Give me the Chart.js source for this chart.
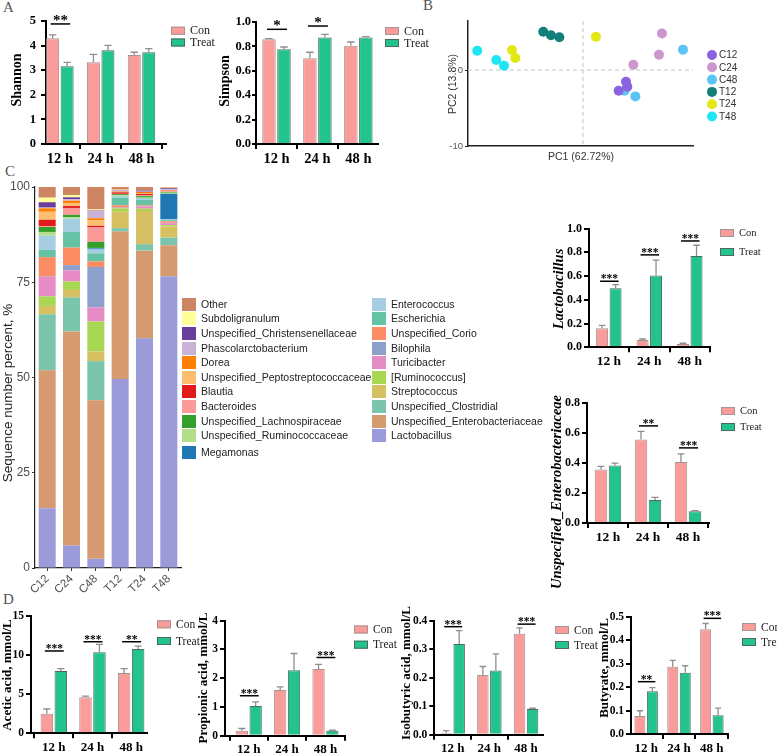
<!DOCTYPE html>
<html>
<head>
<meta charset="utf-8">
<script src="https://cdn.jsdelivr.net/npm/chart.js@4.4.0/dist/chart.umd.min.js"></script>
<style>
html, body { margin: 0; padding: 0; background: #fff; }
#wrap { position: relative; width: 777px; height: 754px; overflow: hidden; }
#wrap canvas { position: absolute; left: 0; top: 0; }
.panel { position: absolute; font-family: "Liberation Serif"; font-size: 15px; line-height: 15px; color: #555; }
.lg-box { position: absolute; width: 14px; height: 13px; }
.lg-txt { position: absolute; font-family: "Liberation Sans"; font-size: 10.5px; line-height: 13px; color: #222; white-space: nowrap; }
</style>
</head>
<body>
<div id="wrap">
  <div class="panel" style="left:3px;top:0px">A</div>
  <div class="panel" style="left:423px;top:-2px">B</div>
  <div class="panel" style="left:5px;top:164px">C</div>
  <div class="panel" style="left:3px;top:592px">D</div>
</div>
<script>
// ---- data ----
const times = ['12 h', '24 h', '48 h'];
const groups = ['Con', 'Treat'];
const groupFill = ['#f99c9a', '#23c38e'];
const groupLine = ['#a49494', '#4e6a5e'];

const shannonCon = [4.30, 3.32, 3.62];
const shannonConSd = [0.14, 0.32, 0.11];
const shannonTreat = [3.16, 3.81, 3.73];
const shannonTreatSd = [0.16, 0.20, 0.15];
const shannonSig = ['**', '', ''];
const shannonSigAt = [4.88, null, null];

const simpsonCon = [0.858, 0.702, 0.806];
const simpsonConSd = [0.005, 0.05, 0.03];
const simpsonTreat = [0.776, 0.872, 0.872];
const simpsonTreatSd = [0.019, 0.027, 0.008];
const simpsonSig = ['*', '*', ''];
const simpsonSigAt = [0.94, 0.967, null];

const lactoCon = [0.16, 0.062, 0.028];
const lactoConSd = [0.025, 0.008, 0.006];
const lactoTreat = [0.497, 0.604, 0.769];
const lactoTreatSd = [0.031, 0.13, 0.09];
const lactoSig = ['***', '***', '***'];
const lactoSigAt = [0.556, 0.778, 0.895];

const enteroCon = [0.358, 0.558, 0.407];
const enteroConSd = [0.02, 0.055, 0.055];
const enteroTreat = [0.385, 0.153, 0.078];
const enteroTreatSd = [0.015, 0.018, 0.005];
const enteroSig = ['', '**', '***'];
const enteroSigAt = [null, 0.649, 0.502];

const aceticCon = [2.5, 4.6, 7.7];
const aceticConSd = [0.6, 0.13, 0.55];
const aceticTreat = [7.95, 10.33, 10.75];
const aceticTreatSd = [0.3, 1.0, 0.38];
const aceticSig = ['***', '***', '**'];
const aceticSigAt = [10.5, 11.68, 11.68];

const propCon = [0.17, 1.59, 2.32];
const propConSd = [0.08, 0.11, 0.16];
const propTreat = [1.03, 2.28, 0.17];
const propTreatSd = [0.15, 0.58, 0.02];
const propSig = ['***', '', '***'];
const propSigAt = [1.39, null, 2.72];

const isoCon = [0.007, 0.21, 0.355];
const isoConSd = [0.007, 0.03, 0.021];
const isoTreat = [0.319, 0.226, 0.09];
const isoTreatSd = [0.047, 0.058, 0.003];
const isoSig = ['***', '', '***'];
const isoSigAt = [0.380, null, 0.389];

const butyCon = [0.077, 0.287, 0.447];
const butyConSd = [0.022, 0.027, 0.024];
const butyTreat = [0.182, 0.261, 0.08];
const butyTreatSd = [0.016, 0.03, 0.03];
const butySig = ['**', '', '***'];
const butySigAt = [0.223, null, 0.493];

// PCA
const pcaGroups = ['C12', 'C24', 'C48', 'T12', 'T24', 'T48'];
const pcaColors = ['#8b63e0', '#cc98cc', '#5cc3f5', '#137f7a', '#e1e814', '#1fe6f2'];
const pcaPc1 = [
  [3.91, 4.03, 3.24],
  [7.18, 6.91, 4.58],
  [9.09, 3.76, 4.76],
  [-3.61, -2.91, -2.15],
  [-6.45, -6.15, 1.18],
  [-9.61, -7.88, -7.18]
];
const pcaPc2 = [
  [-1.54, -2.19, -2.72],
  [4.82, 2.02, 0.70],
  [2.68, -2.72, -3.47],
  [5.04, 4.57, 4.30],
  [2.63, 1.58, 4.38],
  [2.54, 1.32, 0.57]
];

// community composition, bottom of the stack first
const samples = ['C12', 'C24', 'C48', 'T12', 'T24', 'T48'];
const genera = ['Lactobacillus', 'Unspecified_Enterobacteriaceae', 'Unspecified_Clostridial', 'Streptococcus',
  '[Ruminococcus]', 'Turicibacter', 'Bilophila', 'Unspecified_Corio', 'Escherichia', 'Enterococcus',
  'Megamonas', 'Unspecified_Ruminococcaceae', 'Unspecified_Lachnospiraceae', 'Bacteroides', 'Blautia',
  'Unspecified_Peptostreptococcaceae', 'Dorea', 'Phascolarctobacterium', 'Unspecified_Christensenellaceae',
  'Subdoligranulum', 'Other'];
const genusColors = ['#9b9bd9', '#d69a70', '#7ac5ab', '#d6c062', '#a8d853', '#e68bc6', '#8d9fcb', '#fc8c63',
  '#66c2a5', '#a6cee3', '#1f78b4', '#b2df8a', '#33a02c', '#fb9a99', '#e31a1c', '#fdbf6f', '#ff7f00',
  '#cab2d6', '#6a3d9a', '#ffff99', '#cd8563'];
const c12 = [15.7, 36.2, 14.7, 2.2, 2.5, 5.1, 0.1, 5.1, 1.9, 3.7, 0, 1.0, 1.3, 0.2, 1.7, 2.1, 0.9, 0.2, 1.4, 1.2, 3.0];
const c24 = [5.9, 56.2, 8.9, 2.0, 2.2, 2.9, 1.4, 4.6, 4.1, 3.5, 0, 0.4, 0.6, 1.8, 0.5, 0.7, 0.7, 0.4, 0.5, 0.6, 2.1];
const c48 = [2.4, 41.6, 10.3, 2.5, 7.9, 3.7, 10.6, 1.5, 2.1, 1.0, 0.3, 0.1, 1.6, 3.9, 0.3, 1.5, 0.5, 1.8, 0.2, 0.3, 6.0];
const t12 = [49.6, 38.7, 0.9, 4.3, 0.9, 0.1, 0.1, 0.6, 2.0, 0.4, 0, 0.2, 0.3, 0.1, 0.4, 0.1, 0.1, 0.3, 0.1, 0.1, 0.9];
const t24 = [60.3, 23.0, 1.7, 8.7, 0.6, 0.5, 0.1, 0.3, 1.5, 0.4, 0, 0.1, 0.4, 0.2, 0.4, 0.2, 0.3, 0.1, 0.3, 0.1, 1.0];
const t48 = [76.6, 8.1, 2.0, 2.9, 0.4, 0.5, 0.1, 0.4, 0.3, 0.3, 6.6, 0.3, 0.2, 0.2, 0.1, 0.1, 0.1, 0.3, 0.2, 0.1, 0.6];
const sampleValues = [c12, c24, c48, t12, t24, t48];

// ---- drawing ----
const W = 777, H = 754;
const wrap = document.getElementById('wrap');
const serif = 'Liberation Serif', sans = 'Liberation Sans';

function addCanvas(id) {
  const c = document.createElement('canvas');
  c.id = id; c.width = W; c.height = H;
  wrap.appendChild(c);
  return c.getContext('2d');
}

// the axis boxes must be wide enough, chart.js clips tick labels to them
function axisSizes(box) {
  return { yw: Math.min(45, box.x0 - 1), xh: Math.min(32, H - box.y1) };
}

function padFor(box, yw, xh) {
  return { left: box.x0 - yw, top: box.y0, right: W - box.x1, bottom: H - box.y1 - xh };
}

function vText(ctx, t) {
  ctx.save();
  ctx.translate(t.x, t.y);
  ctx.rotate(-Math.PI / 2);
  ctx.font = t.font;
  ctx.fillStyle = t.color || '#000';
  ctx.textAlign = 'center';
  ctx.textBaseline = 'middle';
  ctx.fillText(t.text, 0, 0);
  ctx.restore();
}

function barDecor(s) {
  return {
    id: 'barDecor',
    afterDatasetsDraw(chart) {
      const ctx = chart.ctx, ys = chart.scales.y;
      ctx.save();
      chart.data.datasets.forEach((ds, d) => {
        chart.getDatasetMeta(d).data.forEach((bar, i) => {
          const top = ys.getPixelForValue(ds.data[i].y + ds.errors[i]);
          const cap = bar.width * 0.28;
          ctx.strokeStyle = '#8e8e8e';
          ctx.lineWidth = 1.3;
          ctx.beginPath();
          ctx.moveTo(bar.x, bar.y);
          ctx.lineTo(bar.x, top);
          ctx.moveTo(bar.x - cap, top);
          ctx.lineTo(bar.x + cap, top);
          ctx.stroke();
        });
      });
      const m0 = chart.getDatasetMeta(0).data, m1 = chart.getDatasetMeta(1).data;
      s.sig.forEach((mark, i) => {
        if (!mark) return;
        const y = ys.getPixelForValue(s.sigAt[i]);
        ctx.strokeStyle = '#000';
        ctx.lineWidth = 1.5;
        ctx.beginPath();
        ctx.moveTo(m0[i].x - 2, y);
        ctx.lineTo(m1[i].x + 3, y);
        ctx.stroke();
        ctx.fillStyle = '#000';
        ctx.font = 'bold ' + s.starSize + 'px "' + serif + '"';
        ctx.textAlign = 'center';
        ctx.textBaseline = 'alphabetic';
        ctx.fillText(mark, (m0[i].x + m1[i].x) / 2 + 0.5, y + 1);
      });
      ctx.restore();
    },
    afterDraw(chart) {
      const ctx = chart.ctx;
      vText(ctx, { text: s.title, x: s.titleX, y: s.titleY,
        font: (s.italic ? 'italic ' : '') + 'bold ' + s.titleSize + 'px "' + serif + '"' });
      ctx.save();
      groups.forEach((g, k) => {
        const y = s.legY + k * s.legDy;
        ctx.fillStyle = groupFill[k];
        ctx.fillRect(s.legX, y - 4, 14, 8);
        ctx.strokeStyle = groupLine[k];
        ctx.lineWidth = 1;
        ctx.strokeRect(s.legX + 0.5, y - 3.5, 13, 7);
        ctx.fillStyle = '#222';
        ctx.font = s.legSize + 'px "' + serif + '"';
        ctx.textAlign = 'left';
        ctx.textBaseline = 'middle';
        ctx.fillText(g, s.legX + 19, y + 0.5);
      });
      ctx.restore();
    }
  };
}

function groupedBars(id, s) {
  const ctx = addCanvas(id);
  const spacing = (s.box.x1 - s.box.x0) / (s.xmax - s.xmin);
  const gap = 1.5;
  const ax = axisSizes(s.box);
  const series = [[s.con, s.conSd], [s.treat, s.treatSd]];
  const yTicks = [];
  for (let v = 0; v <= s.ymax + 1e-9; v += s.step) yTicks.push(+v.toFixed(6));
  new Chart(ctx, {
    type: 'bar',
    data: {
      datasets: series.map((se, k) => ({
        label: groups[k],
        data: se[0].map((v, i) => ({ x: i, y: v })),
        errors: se[1],
        backgroundColor: groupFill[k],
        borderColor: groupLine[k],
        borderWidth: 1,
        categoryPercentage: 2 * (s.barW + gap) / spacing,
        barPercentage: s.barW / (s.barW + gap)
      }))
    },
    options: {
      responsive: false,
      animation: false,
      layout: { padding: padFor(s.box, ax.yw, ax.xh) },
      plugins: { legend: { display: false }, tooltip: { enabled: false } },
      scales: {
        x: {
          type: 'linear', min: s.xmin, max: s.xmax, offset: false,
          afterBuildTicks: sc => { sc.ticks = times.map((t, i) => ({ value: i })); },
          afterFit: sc => { sc.height = ax.xh; },
          ticks: { callback: v => times[v], font: { family: serif, size: s.labSize, weight: 'bold' },
                   color: '#000', padding: 1.5, maxRotation: 0, autoSkip: false },
          grid: { display: true, drawOnChartArea: false, drawTicks: true, tickLength: 5, color: '#000', lineWidth: 2 },
          border: { display: true, color: '#000', width: 2 }
        },
        y: {
          min: 0, max: s.ymax,
          afterBuildTicks: sc => { sc.ticks = yTicks.map(v => ({ value: v })); },
          afterFit: sc => { sc.width = ax.yw; },
          ticks: { callback: v => v.toFixed(s.dec), font: { family: serif, size: s.tickSize, weight: 'bold' },
                   color: '#000', padding: s.tickPad },
          grid: { display: true, drawOnChartArea: false, drawTicks: true, tickLength: s.tickLen || 5, color: '#000', lineWidth: 2 },
          border: { display: true, color: '#000', width: 2 }
        }
      }
    },
    plugins: [barDecor(s)]
  });
}

const styleA = { tickSize: 12.5, labSize: 14.5, starSize: 15, titleSize: 14, legSize: 12, tickPad: 5 };
const styleC = { tickSize: 12, labSize: 13.5, starSize: 11.5, titleSize: 14.5, legSize: 10.5, tickPad: 2, italic: true };
const styleD = { tickSize: 11.5, labSize: 13, starSize: 11.5, titleSize: 13, legSize: 11.5, tickPad: 2 };

groupedBars('shannon', Object.assign({}, styleA, {
  box: { x0: 46, x1: 166, y0: 21, y1: 144 }, xmin: -0.34, xmax: 2.6, ymax: 5, step: 1, dec: 0, barW: 13,
  con: shannonCon, conSd: shannonConSd, treat: shannonTreat, treatSd: shannonTreatSd,
  sig: shannonSig, sigAt: shannonSigAt,
  title: 'Shannon', titleX: 17, titleY: 80, legX: 171, legY: 30.7, legDy: 11.8
}));

groupedBars('simpson', Object.assign({}, styleA, {
  box: { x0: 256, x1: 378, y0: 22, y1: 144 }, xmin: -0.5, xmax: 2.48, ymax: 1, step: 0.2, dec: 1, barW: 13.5,
  con: simpsonCon, conSd: simpsonConSd, treat: simpsonTreat, treatSd: simpsonTreatSd,
  sig: simpsonSig, sigAt: simpsonSigAt, tickPad: 1, tickLen: 4,
  title: 'Simpson', titleX: 225, titleY: 81, legX: 385, legY: 31, legDy: 12
}));

groupedBars('lacto', Object.assign({}, styleC, {
  box: { x0: 589, x1: 710, y0: 228.5, y1: 347.3 }, xmin: -0.49, xmax: 2.5, ymax: 1, step: 0.2, dec: 1, barW: 12,
  con: lactoCon, conSd: lactoConSd, treat: lactoTreat, treatSd: lactoTreatSd,
  sig: lactoSig, sigAt: lactoSigAt,
  title: 'Lactobacillus', titleX: 559, titleY: 289, legX: 720, legY: 233, legDy: 19
}));

groupedBars('entero', Object.assign({}, styleC, {
  box: { x0: 587, x1: 709, y0: 403.3, y1: 523 }, xmin: -0.525, xmax: 2.525, ymax: 0.8, step: 0.2, dec: 1, barW: 12.5,
  con: enteroCon, conSd: enteroConSd, treat: enteroTreat, treatSd: enteroTreatSd,
  sig: enteroSig, sigAt: enteroSigAt,
  title: 'Unspecified_Enterobacteriaceae', titleX: 557, titleY: 492, legX: 721, legY: 411, legDy: 16
}));

groupedBars('acetic', Object.assign({}, styleD, {
  box: { x0: 31, x1: 147, y0: 615.7, y1: 733.3 }, xmin: -0.59, xmax: 2.41, ymax: 15, step: 5, dec: 0, barW: 12.5,
  con: aceticCon, conSd: aceticConSd, treat: aceticTreat, treatSd: aceticTreatSd,
  sig: aceticSig, sigAt: aceticSigAt,
  title: 'Acetic acid, mmol/L', titleX: 8, titleY: 675, legX: 157, legY: 624.3, legDy: 16.7
}));

groupedBars('propionic', Object.assign({}, styleD, {
  box: { x0: 225, x1: 345, y0: 620.7, y1: 735.7 }, xmin: -0.62, xmax: 2.51, ymax: 4, step: 1, dec: 0, barW: 12.3,
  con: propCon, conSd: propConSd, treat: propTreat, treatSd: propTreatSd,
  sig: propSig, sigAt: propSigAt,
  title: 'Propionic acid, mmol/L', titleX: 204, titleY: 678, legX: 354, legY: 629.5, legDy: 15.2
}));

groupedBars('isobutyric', Object.assign({}, styleD, {
  box: { x0: 434.3, x1: 543.3, y0: 621, y1: 734.7 }, xmin: -0.5, xmax: 2.47, ymax: 0.4, step: 0.1, dec: 1, barW: 11.5,
  con: isoCon, conSd: isoConSd, treat: isoTreat, treatSd: isoTreatSd,
  sig: isoSig, sigAt: isoSigAt,
  title: 'Isobutyric acid, mmol/L', titleX: 407, titleY: 673, legX: 555, legY: 630, legDy: 15
}));

groupedBars('butyrate', Object.assign({}, styleD, {
  box: { x0: 631, x1: 728.3, y0: 616.7, y1: 734 }, xmin: -0.46, xmax: 2.5, ymax: 0.5, step: 0.1, dec: 1, barW: 11,
  con: butyCon, conSd: butyConSd, treat: butyTreat, treatSd: butyTreatSd,
  sig: butySig, sigAt: butySigAt,
  title: 'Butyrate, mmol/L', titleX: 605, titleY: 668, legX: 742, legY: 627, legDy: 15
}));

// ---- PCA ----
(function () {
  const ctx = addCanvas('pca');
  const box = { x0: 468, x1: 693, y0: 21, y1: 146 };
  const ax = axisSizes(box);
  new Chart(ctx, {
    type: 'scatter',
    data: {
      datasets: pcaGroups.map((g, k) => ({
        label: g,
        data: pcaPc1[k].map((v, i) => ({ x: v, y: pcaPc2[k][i] })),
        backgroundColor: pcaColors[k],
        borderWidth: 0,
        pointRadius: 5
      }))
    },
    options: {
      responsive: false,
      animation: false,
      layout: { padding: padFor(box, ax.yw, ax.xh) },
      plugins: { legend: { display: false }, tooltip: { enabled: false } },
      scales: {
        x: {
          type: 'linear', min: -10.45, max: 10,
          afterFit: sc => { sc.height = ax.xh; },
          ticks: { display: false },
          grid: { display: false },
          border: { display: true, color: '#222', width: 1.5 }
        },
        y: {
          min: -10, max: 6.45,
          afterBuildTicks: sc => { sc.ticks = [{ value: -10 }, { value: 0 }]; },
          afterFit: sc => { sc.width = ax.yw; },
          ticks: { font: { family: sans, size: 9.5 }, color: '#555', padding: 2 },
          grid: { display: true, drawOnChartArea: false, drawTicks: true, tickLength: 3, color: '#222', lineWidth: 1 },
          border: { display: true, color: '#222', width: 1.5 }
        }
      }
    },
    plugins: [{
      id: 'pcaDecor',
      beforeDatasetsDraw(chart) {
        const c = chart.ctx, a = chart.chartArea;
        const x0 = chart.scales.x.getPixelForValue(0), y0 = chart.scales.y.getPixelForValue(0);
        c.save();
        c.strokeStyle = '#c4c4c4';
        c.lineWidth = 1;
        c.setLineDash([4, 3]);
        c.beginPath();
        c.moveTo(x0, a.top); c.lineTo(x0, a.bottom);
        c.moveTo(a.left, y0); c.lineTo(a.right, y0);
        c.stroke();
        c.restore();
      },
      afterDraw(chart) {
        const c = chart.ctx;
        vText(c, { text: 'PC2 (13.8%)', x: 453, y: 84, font: '10.5px "' + sans + '"', color: '#333' });
        c.save();
        c.font = '10.5px "' + sans + '"';
        c.fillStyle = '#333';
        c.textAlign = 'center';
        c.textBaseline = 'middle';
        c.fillText('PC1 (62.72%)', 581, 157);
        c.textAlign = 'left';
        c.font = '10px "' + sans + '"';
        pcaGroups.forEach((g, k) => {
          const y = 55 + k * 12.3;
          c.fillStyle = pcaColors[k];
          c.beginPath();
          c.arc(712, y, 5, 0, Math.PI * 2);
          c.fill();
          c.fillStyle = '#333';
          c.fillText(g, 719, y + 0.5);
        });
        c.restore();
      }
    }]
  });
})();

// ---- stacked composition ----
(function () {
  const ctx = addCanvas('stack');
  const box = { x0: 35, x1: 181, y0: 187, y1: 568 };
  const ax = axisSizes(box);
  new Chart(ctx, {
    type: 'bar',
    data: {
      labels: samples,
      datasets: genera.map((g, k) => ({
        label: g,
        data: sampleValues.map(arr => arr[k]),
        backgroundColor: genusColors[k],
        borderWidth: 0,
        barPercentage: 0.7,
        categoryPercentage: 1
      }))
    },
    options: {
      responsive: false,
      animation: false,
      layout: { padding: padFor(box, ax.yw, ax.xh) },
      plugins: { legend: { display: false }, tooltip: { enabled: false } },
      scales: {
        x: {
          stacked: true,
          afterFit: sc => { sc.height = ax.xh; },
          ticks: { font: { family: sans, size: 11.5 }, color: '#4d4d4d', minRotation: 45, maxRotation: 45, padding: 1 },
          grid: { display: true, offset: false, drawOnChartArea: false, drawTicks: true, tickLength: 3, color: '#333' },
          border: { display: true, color: '#222', width: 1.2 }
        },
        y: {
          stacked: true, min: 0, max: 100,
          afterFit: sc => { sc.width = ax.yw; },
          ticks: { stepSize: 25, font: { family: sans, size: 12 }, color: '#4d4d4d', padding: 2 },
          grid: { display: true, drawOnChartArea: false, drawTicks: true, tickLength: 3, color: '#333' },
          border: { display: true, color: '#222', width: 1.2 }
        }
      }
    },
    plugins: [{
      id: 'stackTitle',
      afterDraw(chart) {
        vText(chart.ctx, { text: 'Sequence number percent, %', x: 8, y: 393, font: '13.5px "' + sans + '"', color: '#222' });
      }
    }]
  });

  // legend in two columns, top of the stack first
  const order = genera.map((g, k) => k).reverse();
  order.forEach((k, n) => {
    const col = n < 11 ? 0 : 1;
    const row = col === 0 ? n : n - 11;
    const bx = col === 0 ? 182 : 372;
    const cy = 304.3 + row * 14.6 + (col === 0 && row === 10 ? 2.5 : 0);
    const b = document.createElement('div');
    b.className = 'lg-box';
    b.style.left = bx + 'px';
    b.style.top = (cy - 6.5) + 'px';
    b.style.background = genusColors[k];
    wrap.appendChild(b);
    const t = document.createElement('div');
    t.className = 'lg-txt';
    t.style.left = (bx + 19) + 'px';
    t.style.top = (cy - 6.5) + 'px';
    t.textContent = genera[k];
    wrap.appendChild(t);
  });
})();
</script>
</body>
</html>
